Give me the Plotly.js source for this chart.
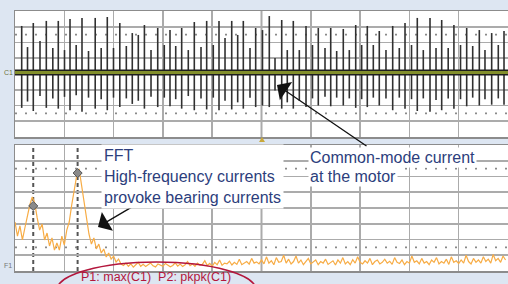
<!DOCTYPE html>
<html>
<head>
<meta charset="utf-8">
<script src="https://cdn.plot.ly/plotly-3.0.1.min.js"></script>
<style>html,body{margin:0;padding:0;background:#dde6f2;}#chart{width:508px;height:284px;}</style>
</head>
<body>
<div id="chart"></div>
<script>
// ---- Data (divisions) ----
// Common-mode current spikes (top panel, C1): time [div], positive peak [div], negative peak [div]
const spikeT = [0.136,0.254,0.371,0.507,0.635,0.767,0.878,1.004,1.116,1.241,1.359,1.491,1.627,1.748,1.872,1.998,2.126,2.258,2.379,2.501,2.625,2.759,2.895,3.028,3.144,3.260,3.381,3.515,3.637,3.773,3.888,4.022,4.138,4.260,4.396,4.517,4.631,4.767,4.882,5.020,5.158,5.274,5.410,5.523,5.645,5.767,5.903,6.034,6.152,6.288,6.404,6.525,6.659,6.781,6.911,7.032,7.146,7.268,7.389,7.525,7.661,7.795,7.911,8.043,8.160,8.282,8.418,8.540,8.655,8.787,8.903,9.037,9.162,9.284,9.418,9.533,9.669,9.803,9.919];
const spikePos = [3.05,1.71,3.24,2.10,3.37,1.65,3.37,1.52,3.49,1.84,3.56,1.46,3.56,1.65,3.62,1.65,3.24,1.78,2.60,2.48,3.11,1.52,2.92,1.84,2.79,1.78,2.92,1.52,3.30,1.71,3.37,1.84,3.37,2.29,3.37,2.48,3.37,1.65,2.92,2.79,3.68,1.02,3.43,1.52,3.37,1.52,3.05,1.84,2.92,1.65,2.92,1.46,2.86,1.52,3.11,1.84,3.05,1.84,2.73,1.52,3.05,1.65,3.24,1.84,3.56,1.52,3.56,1.65,3.43,1.65,3.11,1.84,2.92,1.78,2.79,1.52,2.60,1.84,2.73];
const spikeNeg = [-2.15,-1.75,-2.35,-1.40,-2.15,-1.55,-2.20,-1.45,-2.30,-1.35,-2.40,-1.50,-2.20,-1.60,-2.30,-1.50,-2.10,-1.55,-1.90,-1.70,-2.20,-1.45,-2.10,-1.50,-2.05,-1.60,-2.20,-1.40,-2.30,-1.55,-2.25,-1.50,-2.30,-1.70,-2.25,-1.80,-2.20,-1.50,-2.10,-2.00,-2.10,-1.05,-2.20,-1.80,-2.20,-1.70,-2.10,-1.55,-2.00,-1.45,-2.05,-1.50,-2.00,-1.55,-2.15,-1.60,-2.10,-1.50,-2.00,-1.55,-2.30,-1.50,-2.20,-1.60,-2.35,-1.55,-2.40,-1.65,-2.30,-1.55,-2.20,-1.60,-2.05,-1.50,-2.00,-1.60,-1.95,-1.55,-1.95];
const bandLevel = 0.1;

// FFT (bottom panel, F1): sampled every fftStep divisions from 0, amplitude in divisions above panel bottom
const fftStep = 0.05;
const fftVals = [3.11,2.22,2.86,1.97,2.73,3.56,4.19,4.70,4.32,3.37,2.60,2.98,1.97,2.41,1.59,2.10,1.33,1.78,1.33,2.22,1.65,2.60,3.11,4.19,5.14,6.03,6.48,5.40,4.19,3.24,2.35,1.71,2.10,1.40,1.71,1.14,1.40,0.89,1.14,0.76,0.95,0.57,0.76,0.44,
0.35,0.5,0.3,0.45,0.25,0.4,0.55,0.3,0.42,0.28,0.38,0.5,0.33,0.26,0.45,0.36,0.3,0.48,0.4,0.27,0.35,0.52,0.31,0.44,0.29,0.4,0.6,0.34,0.45,0.3,0.5,0.38,0.42,0.65,0.35,0.48,0.3,0.55,0.4,0.7,0.36,0.5,0.45,0.62,0.38,0.55,0.42,0.75,0.4,0.5,0.6,0.44,0.8,0.5,0.58,0.45,
0.7,0.45,0.9,0.5,0.65,0.4,0.85,0.55,0.6,1.0,0.5,0.75,0.45,0.6,0.95,0.5,0.7,0.4,0.62,0.8,0.45,0.55,0.7,0.4,0.6,0.5,0.75,0.42,0.55,0.65,0.38,0.7,0.5,0.85,0.45,0.6,0.4,0.72,0.5,0.9,0.55,0.45,0.65,0.5,0.8,0.4,0.6,0.7,0.45,0.55,0.75,0.5,0.62,0.42,0.85,0.55,0.48,0.7,0.4,0.6,0.5,0.95,0.55,0.65,0.45,0.8,0.5,0.6,0.4,0.7,0.55,0.85,0.45,0.6,0.5,0.75,0.42,0.9,0.55,0.65,0.48,0.7,0.5,1.0,0.6,0.45,0.8,0.55,0.7,0.5,0.9,0.6,0.75,0.5,1.05,0.65,0.8,0.55,0.95,0.7];

// FFT cursors P1, P2
const cursorX = [0.37, 1.27];
const cursorY = [4.13, 6.22];

// Texts
const fftText = "FFT<br>High-frequency currents<br>provoke bearing currents";
const cmText1 = "Common-mode current";
const cmText2 = "at the motor";
const measText = "P1: max(C1)  P2: pkpk(C1)";

// ---- Build ----
const W = 508, H = 284;
const px = v => v / W;
const py = v => (H - v) / H;

const sx = [], sy = [];
spikeT.forEach((t, i) => { sx.push(t, t, null); sy.push(spikeNeg[i], spikePos[i], null); });
const fx = fftVals.map((v, i) => i * fftStep);

const traces = [
  {x: sx, y: sy, xaxis: 'x', yaxis: 'y', mode: 'lines', line: {color: '#303030', width: 1.6}, hoverinfo: 'skip'},
  {x: [0, 10], y: [bandLevel, bandLevel], xaxis: 'x', yaxis: 'y', mode: 'lines', line: {color: '#1e1e1e', width: 6}, hoverinfo: 'skip'},
  {x: [0, 10], y: [bandLevel, bandLevel], xaxis: 'x', yaxis: 'y', mode: 'lines', line: {color: '#838f2c', width: 3}, hoverinfo: 'skip'},
  {x: fx, y: fftVals, xaxis: 'x2', yaxis: 'y2', mode: 'lines', line: {color: '#f7ac45', width: 1.2}, hoverinfo: 'skip'},
  {x: cursorX, y: cursorY, xaxis: 'x2', yaxis: 'y2', mode: 'markers', marker: {symbol: 'diamond', size: 7, color: '#8a8a8a', line: {color: '#555', width: 1}}, hoverinfo: 'skip'}
];

const gridCol = '#ababab';
const axX = {range: [0, 10], dtick: 1, showgrid: true, gridcolor: gridCol, gridwidth: 1.5, showticklabels: false, ticks: '', zeroline: false, showline: true, mirror: true, linecolor: '#8c8c8c', linewidth: 1.5, domain: [px(15), 1], fixedrange: true};
const axY = (dom, rng) => ({range: rng, dtick: 1, showgrid: true, gridcolor: gridCol, gridwidth: 1.8, showticklabels: false, ticks: '', zeroline: false, showline: true, mirror: true, linecolor: '#8c8c8c', linewidth: 1.5, domain: dom, fixedrange: true});

const shapes = [];
// centre vertical lines
shapes.push({type: 'line', xref: 'x', yref: 'y domain', x0: 5, x1: 5, y0: 0, y1: 1, line: {color: '#555', width: 1.5}, layer: 'below'});
shapes.push({type: 'line', xref: 'x2', yref: 'y2 domain', x0: 5, x1: 5, y0: 0, y1: 1, line: {color: '#555', width: 1.5}, layer: 'below'});
// centre horizontal line bottom panel
shapes.push({type: 'line', xref: 'x2 domain', yref: 'y2', x0: 0, x1: 1, y0: 4, y1: 4, line: {color: '#555', width: 1.5}, layer: 'below'});
// dotted rows
[[-2.5, 'y', 'x'], [2.5, 'y', 'x'], [1.5, 'y2', 'x2'], [6.5, 'y2', 'x2'], [4, 'y2', 'x2']].forEach(([v, yr, xr]) => {
  shapes.push({type: 'line', xref: xr + ' domain', yref: yr, x0: 0, x1: 1, y0: v, y1: v, line: {color: '#8a8a8a', width: 1.6, dash: '2px,8px'}, layer: 'below'});
});
// cursor lines
cursorX.forEach(c => shapes.push({type: 'line', xref: 'x2', yref: 'y2 domain', x0: c, x1: c, y0: 0, y1: 1, line: {color: '#555', width: 2, dash: '4px,3px'}, layer: 'below'}));
// trigger marker
shapes.push({type: 'path', xref: 'paper', yref: 'paper', path: `M ${px(259)} ${py(142)} L ${px(265)} ${py(142)} L ${px(262)} ${py(137)} Z`, fillcolor: '#c9a83a', line: {width: 0}});
// measurement ellipse
shapes.push({type: 'circle', xref: 'paper', yref: 'paper', x0: px(57), x1: px(256), y0: py(318), y1: py(262), line: {color: '#b3163c', width: 1.6}});

const txtFont = {family: 'Liberation Sans, Arial, sans-serif', size: 16, color: '#2c3e7c'};
const annotations = [
  {xref: 'paper', yref: 'paper', x: px(98), y: py(227), ax: 39, ay: -23, text: '', showarrow: true, arrowhead: 1, arrowsize: 2.8, arrowwidth: 1.3, arrowcolor: '#111'},
  {xref: 'paper', yref: 'paper', x: px(277), y: py(85), ax: 91, ay: 62, text: '', showarrow: true, arrowhead: 1, arrowsize: 2.8, arrowwidth: 1.3, arrowcolor: '#111'},
  {xref: 'paper', yref: 'paper', x: px(101), y: py(176), xanchor: 'left', yanchor: 'middle', align: 'left', text: fftText, showarrow: false, font: txtFont, bgcolor: '#ffffff', borderpad: 2},
  {xref: 'paper', yref: 'paper', x: px(308), y: py(158), xanchor: 'left', yanchor: 'middle', align: 'left', text: cmText1, showarrow: false, font: txtFont, bgcolor: '#ffffff', borderpad: 1},
  {xref: 'paper', yref: 'paper', x: px(308), y: py(177), xanchor: 'left', yanchor: 'middle', align: 'left', text: cmText2, showarrow: false, font: txtFont, bgcolor: '#ffffff', borderpad: 1},
  {xref: 'paper', yref: 'paper', x: px(156), y: py(277), xanchor: 'center', yanchor: 'middle', text: measText, showarrow: false, font: {family: 'Liberation Sans, Arial, sans-serif', size: 12.5, color: '#b3163c'}},
  {xref: 'paper', yref: 'paper', x: px(8), y: py(72), xanchor: 'center', yanchor: 'middle', text: 'C1', showarrow: false, font: {family: 'Liberation Sans, Arial, sans-serif', size: 7, color: '#6f7540'}},
  {xref: 'paper', yref: 'paper', x: px(8), y: py(265), xanchor: 'center', yanchor: 'middle', text: 'F1', showarrow: false, font: {family: 'Liberation Sans, Arial, sans-serif', size: 7, color: '#777'}}
];

const layout = {
  width: W, height: H,
  margin: {l: 0, r: 0, t: 0, b: 0},
  paper_bgcolor: '#dde6f2', plot_bgcolor: '#ffffff',
  showlegend: false,
  xaxis: Object.assign({}, axX, {anchor: 'y'}),
  yaxis: Object.assign(axY([py(137), py(11)], [-4, 4]), {anchor: 'x'}),
  xaxis2: Object.assign({}, axX, {anchor: 'y2'}),
  yaxis2: Object.assign(axY([py(271), py(145)], [0, 8]), {anchor: 'x2'}),
  shapes, annotations
};

Plotly.newPlot('chart', traces, layout, {staticPlot: true, displayModeBar: false});
</script>
</body>
</html>
